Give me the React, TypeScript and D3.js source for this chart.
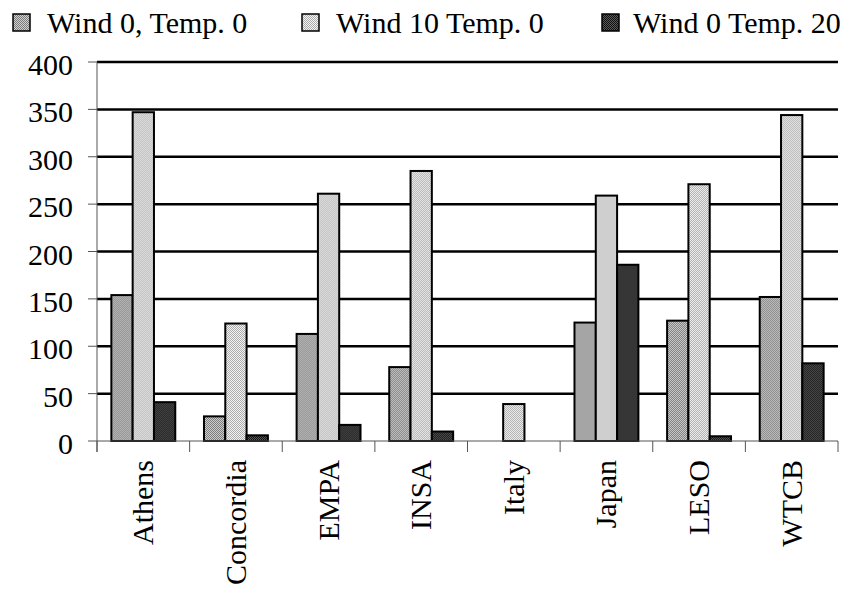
import React from "react";
import * as d3 from "d3";

const categories = ["Athens", "Concordia", "EMPA", "INSA", "Italy", "Japan", "LESO", "WTCB"];
const seriesNames = ["Wind 0, Temp. 0", "Wind 10 Temp. 0", "Wind 0 Temp. 20"];
const wind0temp0 = [154, 26, 113, 78, 0, 125, 127, 152];
const wind10temp0 = [347, 124, 261, 285, 39, 259, 271, 344];
const wind0temp20 = [41, 6, 17, 10, 0, 186, 5, 82];
const yTicks = [0, 50, 100, 150, 200, 250, 300, 350, 400];

const seriesValues = [wind0temp0, wind10temp0, wind0temp20];
const patternIds = ["pat0", "pat1", "pat2"];
const patternColors: [string, string][] = [
  ["#d0d0d0", "#7a7a7a"],
  ["#f4f4f4", "#ababab"],
  ["#5a5a5a", "#111111"],
];

const W = 851;
const H = 591;
const left = 97;
const right = 838;
const top = 62;
const bottom = 441;

export default function App() {
  const x0 = d3
    .scaleBand<string>()
    .domain(categories)
    .range([left, right])
    .paddingInner(0.31)
    .paddingOuter(0.155);
  const x1 = d3
    .scaleBand<number>()
    .domain([0, 1, 2])
    .range([0, x0.bandwidth()])
    .padding(0);
  const y = d3.scaleLinear().domain([0, 400]).range([bottom, top]);
  const step = x0.step();
  const boundaries = d3.range(categories.length + 1).map((i) => left + i * step);

  const legendSwatchX = [13, 302, 602];
  const legendTextX = [47, 336, 633];
  const textStyle = { fontFamily: "Liberation Serif", fontSize: 30 };

  return (
    <svg
      width={W}
      height={H}
      style={{ position: "absolute", left: 0, top: 0, background: "#fff" }}
    >
      <defs>
        {patternColors.map(([a, b], i) => (
          <pattern key={i} id={patternIds[i]} width={2} height={2} patternUnits="userSpaceOnUse">
            <rect x={0} y={0} width={2} height={2} fill={a} />
            <rect x={0} y={0} width={1} height={1} fill={b} />
            <rect x={1} y={1} width={1} height={1} fill={b} />
          </pattern>
        ))}
      </defs>
      <rect x={0} y={0} width={W} height={H} fill="#fff" />

      {/* Legend */}
      {seriesNames.map((name, i) => (
        <g key={name}>
          <rect
            x={legendSwatchX[i]}
            y={14}
            width={17}
            height={17}
            fill={`url(#${patternIds[i]})`}
            stroke="#000"
            strokeWidth={1.5}
          />
          <text x={legendTextX[i]} y={33} style={textStyle} fill="#000">
            {name}
          </text>
        </g>
      ))}

      {/* Gridlines */}
      {yTicks
        .filter((t) => t > 0)
        .map((t) => (
          <line key={t} x1={left} x2={right} y1={y(t)} y2={y(t)} stroke="#000" strokeWidth={2.5} />
        ))}

      {/* Y axis */}
      <line x1={left} x2={left} y1={top} y2={bottom + 11} stroke="#555" strokeWidth={1} />
      {yTicks.map((t) => (
        <g key={t}>
          <line x1={left - 9} x2={left} y1={y(t)} y2={y(t)} stroke="#555" strokeWidth={1} />
          <text x={73} y={y(t) + 13} style={textStyle} textAnchor="end" fill="#000">
            {t}
          </text>
        </g>
      ))}

      {/* Bars */}
      {categories.map((c, ci) => (
        <g key={c} transform={`translate(${x0(c)},0)`}>
          {seriesValues.map((vals, si) =>
            vals[ci] > 0 ? (
              <rect
                key={si}
                x={x1(si)}
                y={y(vals[ci])}
                width={x1.bandwidth()}
                height={y(0) - y(vals[ci])}
                fill={`url(#${patternIds[si]})`}
                stroke="#000"
                strokeWidth={2}
              />
            ) : null
          )}
        </g>
      ))}

      {/* X axis */}
      <line x1={left} x2={right} y1={bottom} y2={bottom} stroke="#555" strokeWidth={1} />
      {boundaries.map((bx, i) => (
        <line key={i} x1={bx} x2={bx} y1={bottom} y2={bottom + 11} stroke="#555" strokeWidth={1} />
      ))}
      {categories.map((c) => {
        const cx = (x0(c) as number) + x0.bandwidth() / 2;
        return (
          <text
            key={c}
            transform={`translate(${cx + 10},${460}) rotate(-90)`}
            style={textStyle}
            textAnchor="end"
            fill="#000"
          >
            {c}
          </text>
        );
      })}
    </svg>
  );
}
